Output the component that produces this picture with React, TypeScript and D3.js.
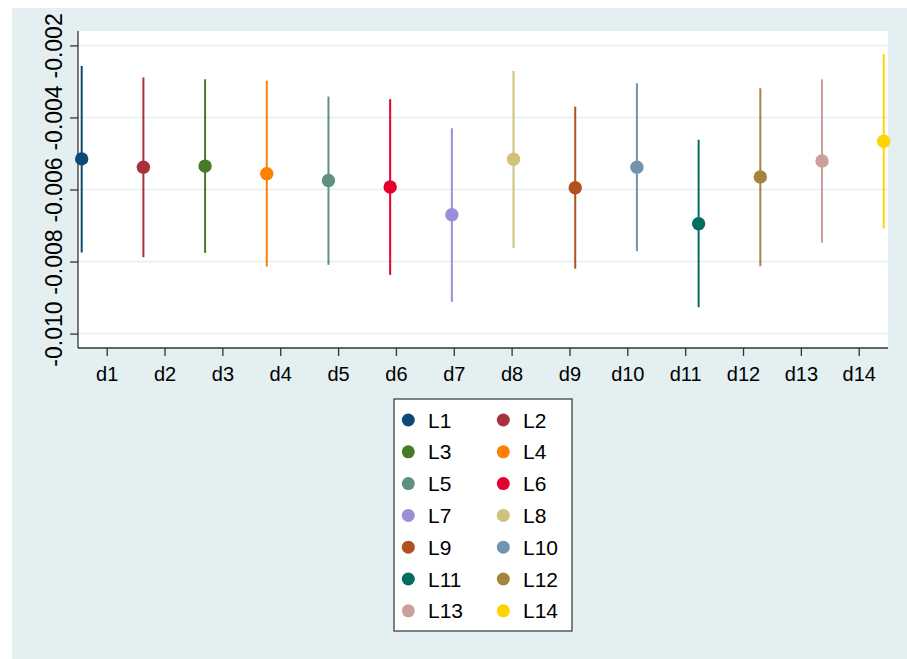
import { useEffect, useRef } from "react";
import * as d3 from "d3";

// categories on the axis and the series plotted
const categories = ["d1", "d2", "d3", "d4", "d5", "d6", "d7", "d8", "d9", "d10", "d11", "d12", "d13", "d14"];
const series = ["L1", "L2", "L3", "L4", "L5", "L6", "L7", "L8", "L9", "L10", "L11", "L12", "L13", "L14"];

// point estimates and confidence bounds
const estimate = [-0.00515, -0.00538, -0.00535, -0.00556, -0.00575, -0.00593, -0.0067, -0.00516, -0.00595, -0.00538, -0.00695, -0.00565, -0.00521, -0.00466];
const upper = [-0.00257, -0.00289, -0.00294, -0.00298, -0.00342, -0.00349, -0.0043, -0.00271, -0.0037, -0.00305, -0.00462, -0.00319, -0.00294, -0.00224];
const lower = [-0.00775, -0.00788, -0.00776, -0.00814, -0.00809, -0.00837, -0.00912, -0.00762, -0.0082, -0.00771, -0.00927, -0.00813, -0.00748, -0.00708];

const yTicks = [-0.01, -0.008, -0.006, -0.004, -0.002];
const yTickLabels = ["-0.010", "-0.008", "-0.006", "-0.004", "-0.002"];

const colors = ["#0b4a74", "#a8323c", "#477a26", "#ff8000", "#5f9080", "#e5002f", "#9a8ed8", "#cec27c", "#b2501f", "#7394ae", "#006e61", "#a3853d", "#cc9f9a", "#ffd400"];

const W = 907, H = 659;
const FONT = "'Liberation Sans', Arial, sans-serif";

function CoefPlot() {
  const svgRef = useRef<SVGSVGElement>(null);

  useEffect(() => {
    const svg = d3.select(svgRef.current);
    svg.selectAll("*").remove();

    const left = 78, right = 888, top = 31, bottom = 348;

    // outer region
    svg.append("rect").attr("x", 12).attr("y", 8).attr("width", W - 12).attr("height", H - 8).attr("fill", "#e3eff0");
    svg.append("rect").attr("x", left).attr("y", top).attr("width", right - left).attr("height", bottom - top).attr("fill", "#fff");

    const y = d3.scaleLinear().domain([-0.0104, -0.0016]).range([bottom, top]);
    const xTick = d3.scalePoint<string>().domain(categories).range([106.7, 858.7]);
    const xPt = d3.scalePoint<string>().domain(series).range([81.7, 883.7]);

    // grid
    svg.append("g").selectAll("line").data(yTicks).join("line")
      .attr("x1", left).attr("x2", right)
      .attr("y1", d => y(d)).attr("y2", d => y(d))
      .attr("stroke", "#e3eff0").attr("stroke-width", 1.5);

    // y axis
    const yAxis = d3.axisLeft(y).tickValues(yTicks).tickSize(8)
      .tickFormat((_, i) => yTickLabels[i]);
    const gy = svg.append("g").attr("transform", `translate(${left},0)`).call(yAxis);
    gy.select(".domain").attr("stroke", "#333").attr("stroke-width", 1.3).attr("d", `M0,${top}V${bottom}`);
    gy.selectAll(".tick line").attr("stroke", "#333").attr("stroke-width", 1.3);
    gy.selectAll(".tick text")
      .attr("font-family", FONT).attr("font-size", 23).attr("fill", "#000")
      .attr("transform", "rotate(-90)")
      .attr("x", 0).attr("y", -16).attr("dy", 0)
      .attr("text-anchor", "middle");

    // x axis
    const xAxis = d3.axisBottom(xTick).tickSize(8);
    const gx = svg.append("g").attr("transform", `translate(0,${bottom})`).call(xAxis);
    gx.select(".domain").attr("stroke", "#333").attr("stroke-width", 1.3).attr("d", `M${left},0H${right}`);
    gx.selectAll(".tick line").attr("stroke", "#333").attr("stroke-width", 1.3);
    gx.selectAll(".tick text").attr("font-family", FONT).attr("font-size", 20).attr("fill", "#000")
      .attr("y", 33).attr("dy", 0);

    // intervals and estimates
    const rows = series.map((s, i) => ({ s, est: estimate[i], lo: lower[i], hi: upper[i], c: colors[i] }));
    const g = svg.append("g");
    g.selectAll("line").data(rows).join("line")
      .attr("x1", d => xPt(d.s)!).attr("x2", d => xPt(d.s)!)
      .attr("y1", d => y(d.hi)).attr("y2", d => y(d.lo))
      .attr("stroke", d => d.c).attr("stroke-width", 2);
    g.selectAll("circle").data(rows).join("circle")
      .attr("cx", d => xPt(d.s)!).attr("cy", d => y(d.est)).attr("r", 6.7)
      .attr("fill", d => d.c);

    // legend
    const lx = 394, ly = 399;
    const lg = svg.append("g").attr("transform", `translate(${lx},${ly})`);
    lg.append("rect").attr("width", 178).attr("height", 232).attr("fill", "#fff").attr("stroke", "#333").attr("stroke-width", 1.2);
    const items = lg.selectAll("g").data(rows).join("g")
      .attr("transform", (_, i) => `translate(${(i % 2) * 95},${21 + Math.floor(i / 2) * 31.8})`);
    items.append("circle").attr("cx", 14.3).attr("cy", 0).attr("r", 6.5).attr("fill", d => d.c);
    items.append("text").attr("x", 34).attr("y", 7.5).attr("font-family", FONT).attr("font-size", 21).attr("fill", "#000").text(d => d.s);
  }, []);

  return <svg ref={svgRef} width={W} height={H} style={{ position: "absolute", left: 0, top: 0, background: "#fff" }} />;
}

export default function App() {
  return <CoefPlot />;
}
